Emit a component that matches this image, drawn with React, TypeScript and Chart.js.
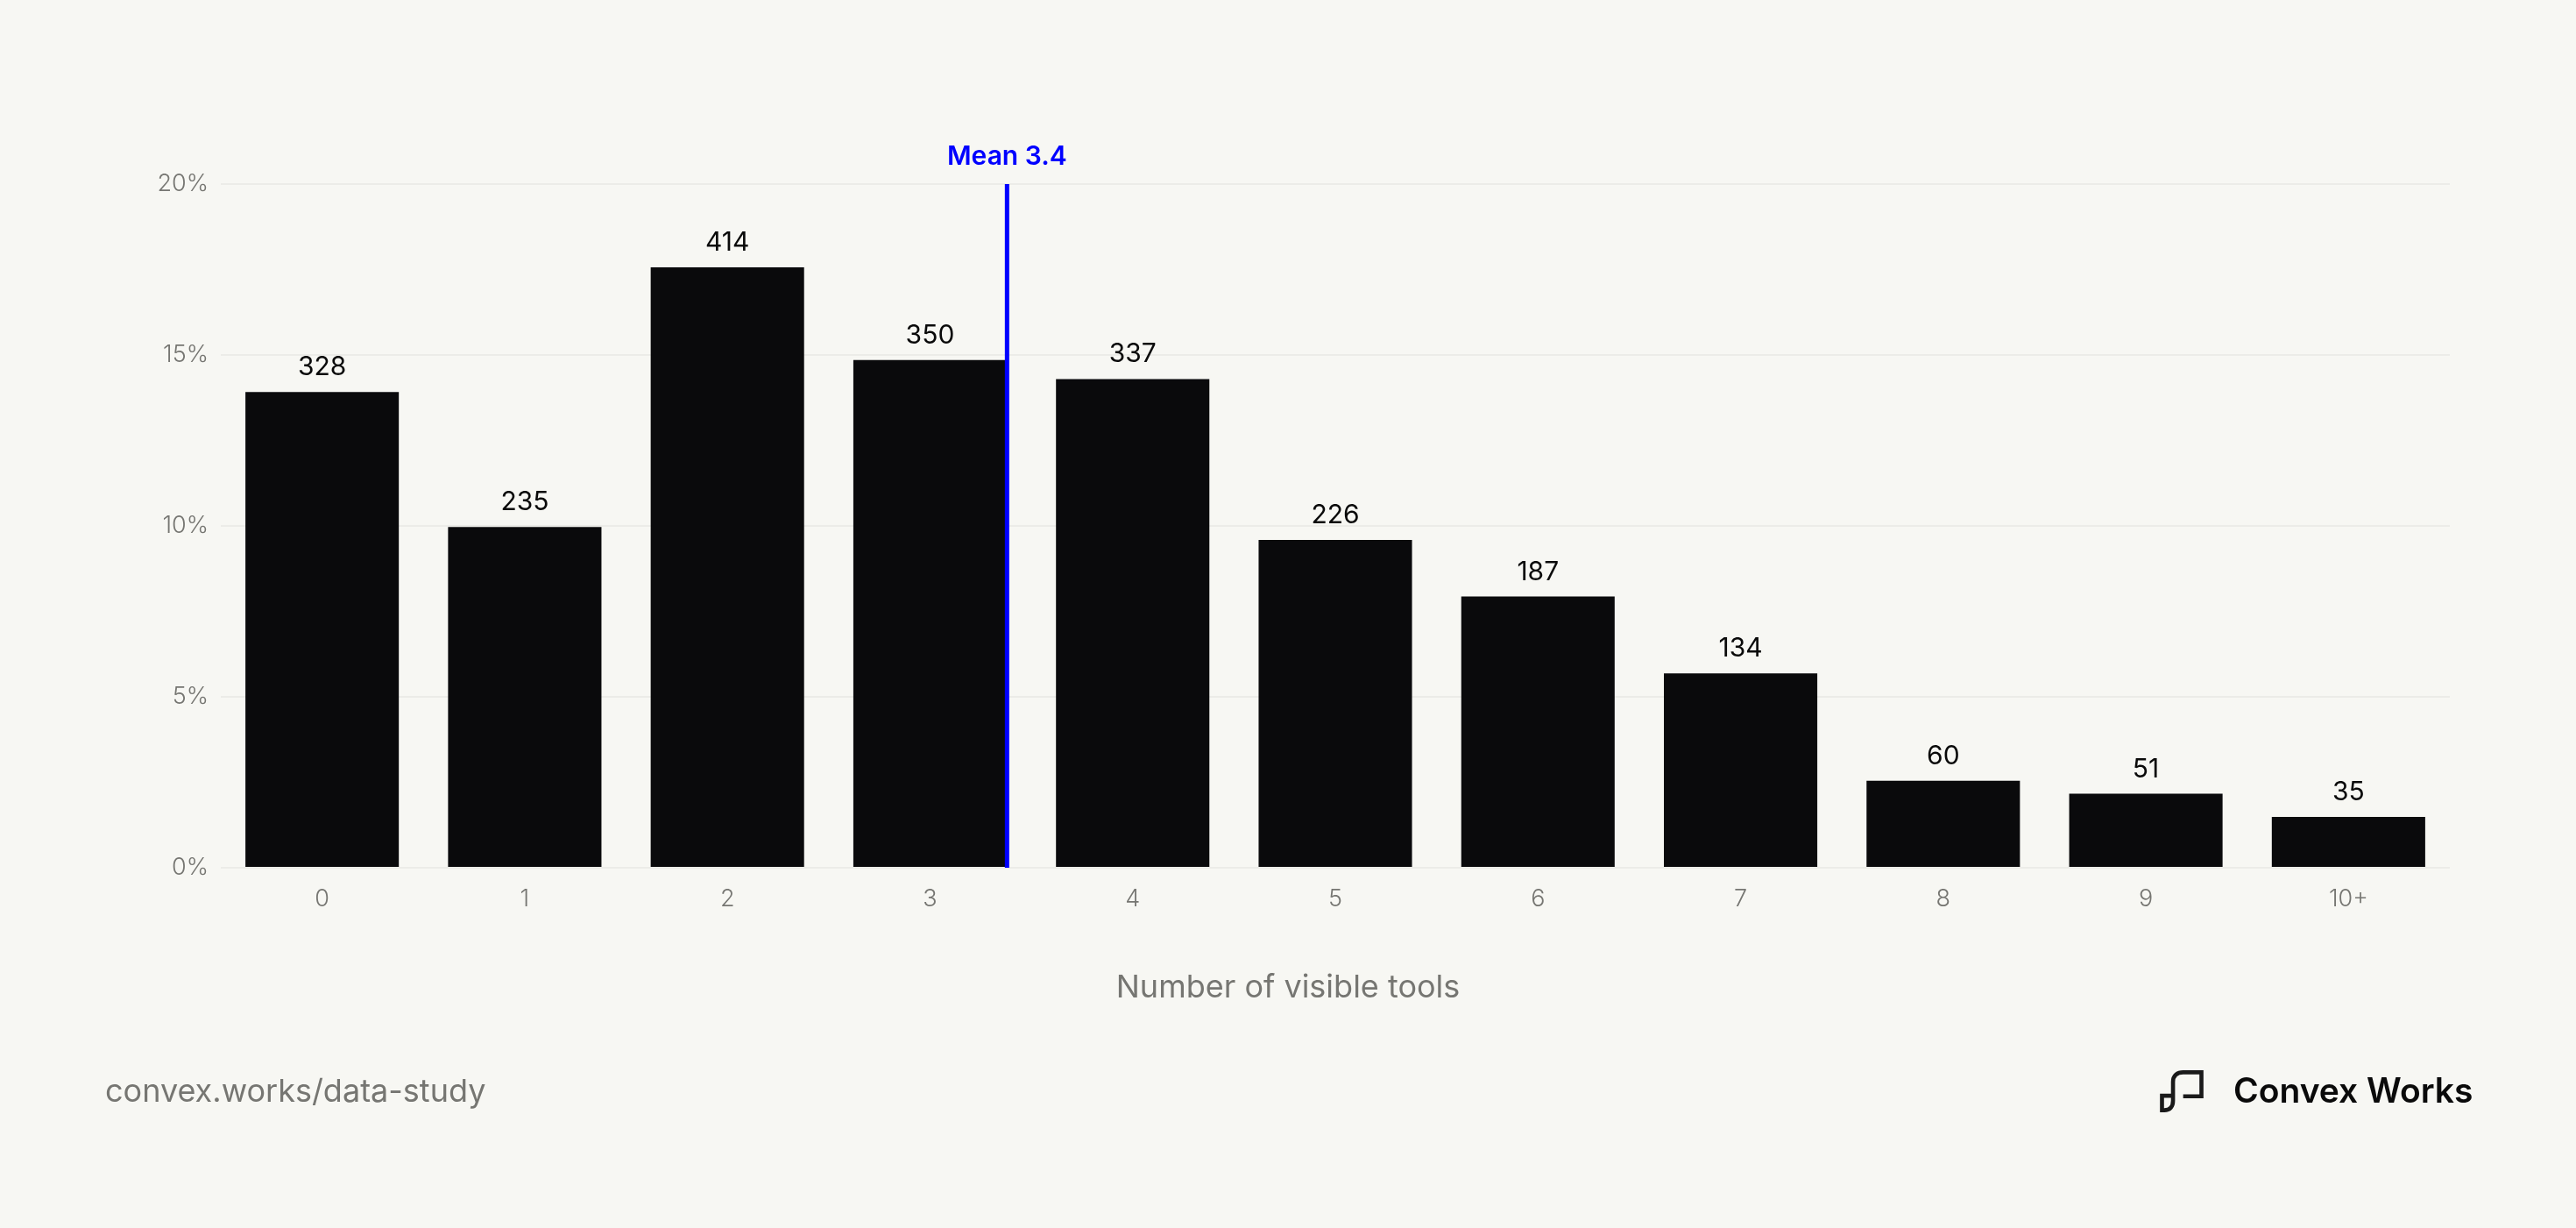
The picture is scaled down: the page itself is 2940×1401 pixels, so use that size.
import React, { useEffect, useRef } from "react";
import { Chart, registerables } from "chart.js";

Chart.register(...registerables);

// ---- Data ----
const TOOL_COUNTS: string[] = ["0", "1", "2", "3", "4", "5", "6", "7", "8", "9", "10+"];
const RESPONSES: number[] = [328, 235, 414, 350, 337, 226, 187, 134, 60, 51, 35];
const Y_TICKS: number[] = [0, 5, 10, 15, 20];
const MEAN_TOOLS = 3.38;
const MEAN_LABEL = "Mean 3.4";
const X_TITLE = "Number of visible tools";
const SOURCE_TEXT = "convex.works/data-study";
const BRAND_TEXT = "Convex Works";

const TOTAL = RESPONSES.reduce((a, b) => a + b, 0);
const SHARES: number[] = RESPONSES.map((v) => (v / TOTAL) * 100);

const BG = "#f7f7f3";
const BAR = "#0a0a0c";
const GRAY = "#767672";
const BLUE = "#0000ff";
const FONT = "Inter, 'Noto Sans', sans-serif";

const valueLabels = {
  id: "valueLabels",
  afterDatasetsDraw(chart: any) {
    const ctx = chart.ctx;
    const meta = chart.getDatasetMeta(0);
    ctx.save();
    ctx.fillStyle = "#0a0a0a";
    ctx.font = `400 30px ${FONT}`;
    ctx.textAlign = "center";
    ctx.textBaseline = "alphabetic";
    meta.data.forEach((bar: any, i: number) => {
      ctx.fillText(String(RESPONSES[i]), bar.x, bar.y - 19);
    });
    ctx.restore();
  },
};

const axisTitle = {
  id: "axisTitle",
  afterDraw(chart: any) {
    const ctx = chart.ctx;
    ctx.save();
    ctx.fillStyle = GRAY;
    ctx.font = `400 36px ${FONT}`;
    ctx.textAlign = "center";
    ctx.textBaseline = "middle";
    ctx.fillText(X_TITLE, chart.width / 2, 1127);
    ctx.restore();
  },
};

const meanLine = {
  id: "meanLine",
  afterDatasetsDraw(chart: any) {
    const ctx = chart.ctx;
    const xs = chart.scales.x;
    const area = chart.chartArea;
    const base = Math.floor(MEAN_TOOLS);
    const frac = MEAN_TOOLS - base;
    const p0 = xs.getPixelForValue(base);
    const p1 = xs.getPixelForValue(base + 1);
    const x = p0 + frac * (p1 - p0);
    ctx.save();
    ctx.strokeStyle = BLUE;
    ctx.lineWidth = 5;
    ctx.beginPath();
    ctx.moveTo(x, area.top);
    ctx.lineTo(x, area.bottom);
    ctx.stroke();
    ctx.fillStyle = BLUE;
    ctx.font = `600 30px ${FONT}`;
    ctx.textAlign = "center";
    ctx.textBaseline = "alphabetic";
    ctx.fillText(MEAN_LABEL, x, area.top - 22);
    ctx.restore();
  },
};

function Logo() {
  return (
    <svg
      width={50}
      height={48}
      viewBox="0 0 150 145"
      style={{ position: "absolute", left: 2465, top: 1221 }}
    >
      <path
        d="M 45,88 H 7 V 138 H 15 C 35,138 45,125 45,105 V 40 C 45,18 60,7 80,7 H 143 V 90 H 80"
        fill="none"
        stroke="#1a1a1a"
        strokeWidth={14}
        strokeLinejoin="miter"
      />
    </svg>
  );
}

export default function App() {
  const canvasRef = useRef<HTMLCanvasElement | null>(null);

  useEffect(() => {
    document.body.style.margin = "0";
    document.body.style.background = BG;
    const canvas = canvasRef.current;
    if (!canvas) return;
    const chart = new Chart(canvas, {
      type: "bar",
      data: {
        labels: TOOL_COUNTS,
        datasets: [
          {
            data: SHARES,
            backgroundColor: BAR,
            borderWidth: 0,
            categoryPercentage: 1,
            barPercentage: 0.757,
          },
        ],
      },
      options: {
        animation: false,
        responsive: false,
        devicePixelRatio: 1,
        maintainAspectRatio: false,
        layout: { padding: { top: 210, right: 144, left: 0, bottom: 211 } },
        plugins: {
          legend: { display: false },
          tooltip: { enabled: false },
          title: { display: false },
        },
        scales: {
          x: {
            grid: { display: false, drawTicks: false },
            border: { display: false },
            ticks: {
              color: GRAY,
              font: { family: FONT, size: 27, weight: 300 as any },
              padding: 20,
            },
            afterFit: (s: any) => {
              s.height = 200;
            },
          },
          y: {
            min: 0,
            max: 20,
            afterBuildTicks: (s: any) => {
              s.ticks = Y_TICKS.map((v) => ({ value: v }));
            },
            grid: { color: "#ecece8", lineWidth: 2, drawTicks: false },
            border: { display: false },
            ticks: {
              color: GRAY,
              font: { family: FONT, size: 27, weight: 300 as any },
              padding: 14,
              callback: (v: any) => `${v}%`,
            },
            afterFit: (s: any) => {
              s.width = 252;
            },
          },
        },
      },
      plugins: [valueLabels, meanLine, axisTitle],
    });
    return () => chart.destroy();
  }, []);

  return (
    <div
      style={{
        position: "absolute",
        left: 0,
        top: 0,
        width: 2940,
        height: 1401,
        background: BG,
        overflow: "hidden",
        fontFamily: FONT,
      }}
    >
      <canvas
        ref={canvasRef}
        width={2940}
        height={1401}
        style={{ position: "absolute", left: 0, top: 0, width: 2940, height: 1401 }}
      />
      <div
        style={{
          position: "absolute",
          left: 120,
          top: 1226,
          fontSize: 36,
          lineHeight: "36px",
          color: GRAY,
          fontWeight: 400,
          whiteSpace: "nowrap",
        }}
      >
        {SOURCE_TEXT}
      </div>
      <Logo />
      <div
        style={{
          position: "absolute",
          left: 2549,
          top: 1224,
          fontSize: 39,
          lineHeight: "39px",
          color: "#0a0a0a",
          fontWeight: 600,
          whiteSpace: "nowrap",
        }}
      >
        {BRAND_TEXT}
      </div>
    </div>
  );
}
